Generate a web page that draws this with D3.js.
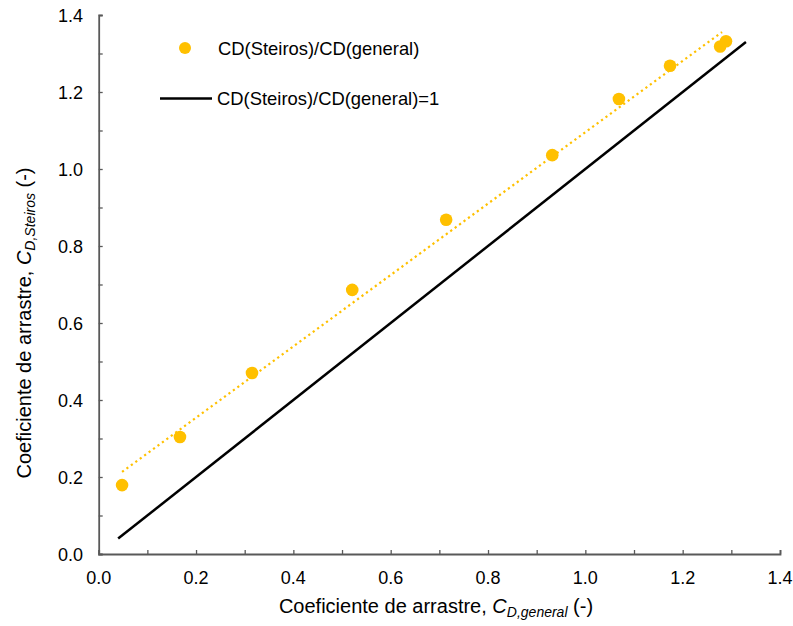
<!DOCTYPE html>
<html><head><meta charset="utf-8">
<script src="https://cdn.jsdelivr.net/npm/d3@7"></script>
<style>body{margin:0;background:#fff}svg{display:block}text{font-family:"Liberation Sans",Arial,sans-serif;fill:#000}</style>
</head><body>
<svg id="c" width="793" height="626"></svg>
<script>
const cdGeneral = [0.048, 0.167, 0.315, 0.521, 0.714, 0.932, 1.069, 1.174, 1.277, 1.289];
const cdSteiros = [0.179, 0.304, 0.470, 0.686, 0.868, 1.036, 1.182, 1.268, 1.318, 1.332];
const identityLine = [0.04, 1.33];
const tickValues = [0, 0.2, 0.4, 0.6, 0.8, 1.0, 1.2, 1.4];
const minorTicks = d3.range(0, 1.401, 0.1);
const legendLabels = ["CD(Steiros)/CD(general)", "CD(Steiros)/CD(general)=1"];

const svg = d3.select("#c");
const x = d3.scaleLinear().domain([0, 1.4]).range([98.7, 780]);
const y = d3.scaleLinear().domain([0, 1.4]).range([554, 15]);
const axisColor = "#595959";
const gold = "#FFC000";

// axes
const gx = svg.append("g").attr("transform", `translate(0,${y(0)})`)
  .call(d3.axisBottom(x).tickValues(minorTicks).tickSize(-4).tickFormat(""));
const gy = svg.append("g").attr("transform", `translate(${x(0)},0)`)
  .call(d3.axisLeft(y).tickValues(minorTicks).tickSize(-4).tickFormat(""));
[gx, gy].forEach(g => {
  g.selectAll("path").attr("stroke", axisColor).attr("stroke-width", 1.8);
  g.selectAll("line").attr("stroke", axisColor).attr("stroke-width", 1.3);
});
// tick labels
svg.append("g").selectAll("text").data(tickValues).join("text")
  .attr("x", d => x(d)).attr("y", y(0) + 29.5).attr("text-anchor", "middle")
  .attr("font-size", 18).text(d => d.toFixed(1));
svg.append("g").selectAll("text").data(tickValues).join("text")
  .attr("x", 83).attr("y", d => y(d) + 6.5).attr("text-anchor", "end")
  .attr("font-size", 18).text(d => d.toFixed(1));

// identity line
svg.append("line")
  .attr("x1", x(identityLine[0])).attr("y1", y(identityLine[0]))
  .attr("x2", x(identityLine[1])).attr("y2", y(identityLine[1]))
  .attr("stroke", "#000").attr("stroke-width", 2.5);

// linear trend
const n = cdGeneral.length;
const mx = d3.mean(cdGeneral), my = d3.mean(cdSteiros);
let sxy = 0, sxx = 0;
for (let i = 0; i < n; i++) { sxy += (cdGeneral[i]-mx)*(cdSteiros[i]-my); sxx += (cdGeneral[i]-mx)**2; }
const slope = sxy / sxx, icpt = my - slope * mx;
const x0 = d3.min(cdGeneral), x1 = d3.max(cdGeneral) - 0.008;
svg.append("line")
  .attr("x1", x(x0)).attr("y1", y(icpt + slope*x0))
  .attr("x2", x(x1)).attr("y2", y(icpt + slope*x1))
  .attr("stroke", gold).attr("stroke-width", 2.2).attr("stroke-dasharray", "2.2,3.3");

// points
svg.append("g").selectAll("circle").data(cdGeneral).join("circle")
  .attr("cx", d => x(d)).attr("cy", (d, i) => y(cdSteiros[i])).attr("r", 6.3)
  .attr("fill", gold);

// legend
svg.append("circle").attr("cx", 185).attr("cy", 48).attr("r", 6).attr("fill", gold);
svg.append("text").attr("x", 218).attr("y", 54.5).attr("font-size", 18.4).text(legendLabels[0]);
svg.append("line").attr("x1", 160).attr("x2", 212).attr("y1", 98.5).attr("y2", 98.5)
  .attr("stroke", "#000").attr("stroke-width", 2.5);
svg.append("text").attr("x", 217).attr("y", 105).attr("font-size", 18.4).text(legendLabels[1]);

// axis titles
const xt = svg.append("text").attr("x", 436).attr("y", 613).attr("text-anchor", "middle").attr("font-size", 20);
xt.append("tspan").text("Coeficiente de arrastre, ");
xt.append("tspan").attr("font-style", "italic").text("C");
xt.append("tspan").attr("font-style", "italic").attr("font-size", 14).attr("dy", 4).text("D,general");
xt.append("tspan").attr("dy", -4).text(" (-)");

const yt = svg.append("text").attr("transform", "translate(31,323) rotate(-90)").attr("text-anchor", "middle").attr("font-size", 20);
yt.append("tspan").text("Coeficiente de arrastre, ");
yt.append("tspan").attr("font-style", "italic").text("C");
yt.append("tspan").attr("font-style", "italic").attr("font-size", 14).attr("dy", 4).text("D,Steiros");
yt.append("tspan").attr("dy", -4).text(" (-)");
</script>
</body></html>
